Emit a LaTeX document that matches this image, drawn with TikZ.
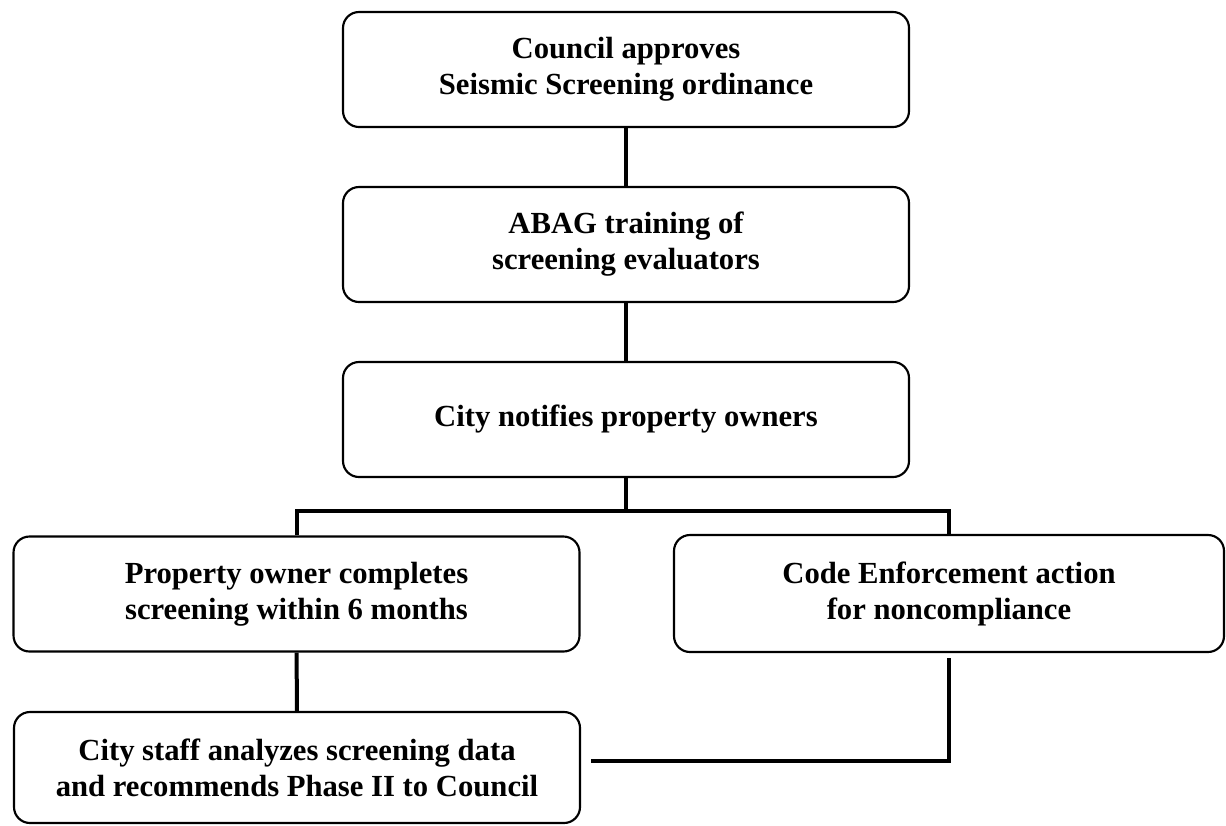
\documentclass[tikz,border=0pt]{standalone}
\usepackage{fontspec}
\setmainfont{Liberation Serif}
\usetikzlibrary{positioning,calc}
\tikzset{
    base/.style={
        draw=black,
        line width=1.6pt,
        rounded corners=12pt,
    },
    % Process step
    box/.style={
        base,
        rectangle,
        minimum width=424.5pt,
        minimum height=86.25pt,
        inner sep=0pt,
        align=center,
        font=\fontsize{23}{27}\selectfont\bfseries,
    },
    % Connector
    link/.style={
        line width=3pt,
    },
}

\begin{document}
\begin{tikzpicture}[x=0.75pt,y=-0.75pt]
    \useasboundingbox (0,0) rectangle (1226,825);
%STEPS_BEGIN%
    \node[box] (b1) at (626,69.5) {Council approves\\Seismic Screening ordinance};
    \node[box] (b2) at (626,244.5) {ABAG training of\\screening evaluators};
    \node[box] (b3) at (626,419.5) {City notifies property owners};
    \node[box] (b4) at (296.5,594) {Property owner completes\\screening within 6 months};
    \node[box,minimum width=412.5pt,minimum height=87.75pt] (b5) at (949,593.5) {Code Enforcement action\\for noncompliance};
    \node[box,minimum height=83.25pt] (b6) at (297,767.5) {City staff analyzes screening data\\and recommends Phase II to Council};
%STEPS_END%

%LINKS_BEGIN%
    \draw[link] (b1) -- (b2);
    \draw[link] (b2) -- (b3);
    \draw[link] (b3.south) -- ++(0,-25pt) coordinate (j);
    \draw[link] (b4.north) |- (j) -| (b5.north);
    \draw[link] (b4) -- (b6);
    \draw[link,shorten <=4pt,shorten >=7.5pt] (b5.south) |- ([yshift=5pt]b6.east);
%LINKS_END%
\end{tikzpicture}
\end{document}
